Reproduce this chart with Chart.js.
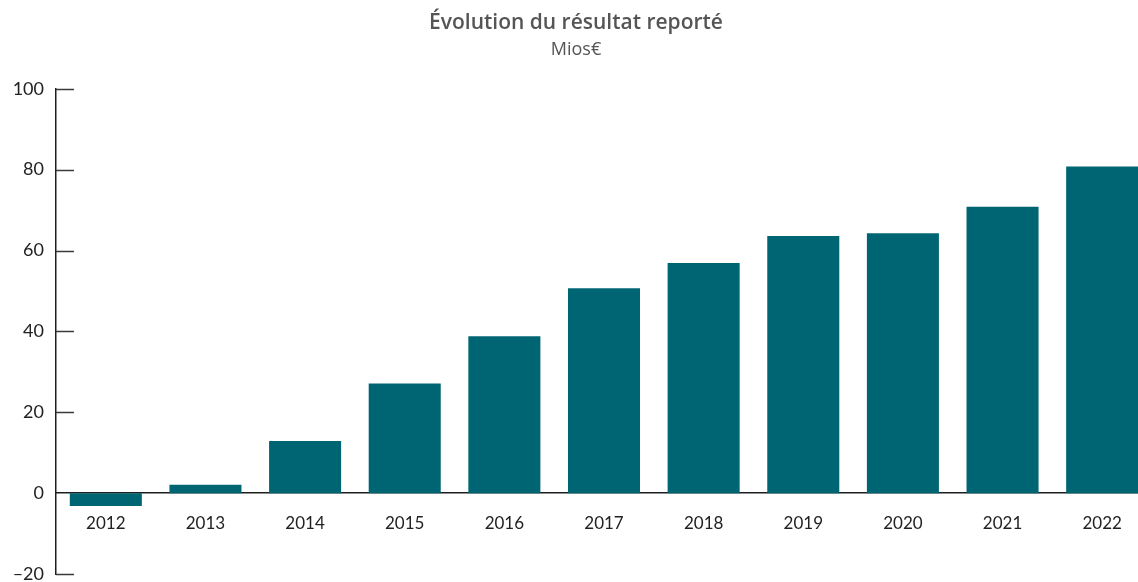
<!DOCTYPE html>
<html lang="fr">
<head>
<meta charset="utf-8">
<title>Évolution du résultat reporté</title>
<script src="https://cdn.jsdelivr.net/npm/chart.js@4.4.1/dist/chart.umd.min.js"></script>
<style>
    html, body { margin: 0; padding: 0; background: #fff; overflow: hidden; }
    #wrap { width: 1138px; height: 582px; overflow: hidden; }
</style>
</head>
<body>
<div id="wrap">
    <canvas id="resultChart" width="1152" height="582"></canvas>
</div>
<script>
var years = ["2012", "2013", "2014", "2015", "2016", "2017", "2018", "2019", "2020", "2021", "2022"];
var resultValues = [-3.2, 2.1, 12.9, 27.1, 38.8, 50.7, 56.9, 63.6, 64.3, 70.8, 80.8];
var yMin = -20;
var yMax = 100;
var yStep = 20;

var barColor = "#006572";
var axisColor = "#1e1e1e";

// short tick marks on the inner side of the y axis
var innerTicks = {
    id: "innerTicks",
    afterDatasetsDraw: function (chart) {
        var ctx = chart.ctx;
        var yScale = chart.scales.y;
        var left = chart.chartArea.left;
        ctx.save();
        ctx.strokeStyle = "#3a3a3a";
        ctx.lineWidth = 1.5;
        yScale.ticks.forEach(function (t) {
            if (t.value === 0) return;
            var y = Math.round(yScale.getPixelForValue(t.value)) + 0.5;
            ctx.beginPath();
            ctx.moveTo(left, y);
            ctx.lineTo(left + 18, y);
            ctx.stroke();
        });
        ctx.restore();
    }
};

var ctx = document.getElementById("resultChart").getContext("2d");
var resultChart = new Chart(ctx, {
    type: "bar",
    data: {
        labels: years,
        datasets: [
            {
                data: resultValues,
                backgroundColor: barColor,
                borderWidth: 0,
                categoryPercentage: 1,
                barPercentage: 0.723,
            },
        ],
    },
    options: {
        responsive: false,
        animation: false,
        layout: {
            padding: { left: 0, right: 0, top: 0, bottom: 8 },
        },
        plugins: {
            legend: { display: false },
            tooltip: { enabled: false },
            title: {
                display: true,
                text: "Évolution du résultat reporté",
                color: "#555555",
                font: { family: "'Open Sans', sans-serif", size: 21, weight: "600" },
                padding: { top: 10, bottom: 2 },
            },
            subtitle: {
                display: true,
                text: "Mios€",
                color: "#555555",
                font: { family: "'Open Sans', sans-serif", size: 18, weight: "400" },
                padding: { top: 2, bottom: 28 },
            },
        },
        scales: {
            x: {
                position: { y: 0 },
                offset: true,
                grid: { display: false, drawTicks: false },
                border: { display: true, color: axisColor, width: 1.5 },
                ticks: {
                    color: "#222222",
                    padding: 20,
                    font: { family: "Lato, sans-serif", size: 17 },
                },
                afterFit: function (scale) {
                    scale.height = 0;
                },
            },
            y: {
                min: yMin,
                max: yMax,
                grid: { display: false, drawTicks: false },
                border: { display: true, color: axisColor, width: 1.5 },
                ticks: {
                    stepSize: yStep,
                    color: "#222222",
                    padding: 12,
                    font: { family: "Lato, sans-serif", size: 18 },
                    callback: function (v) {
                        return String(v).replace("-", "\u2013");
                    },
                },
                afterFit: function (scale) {
                    scale.width = 56;
                    scale.paddingTop = 0;
                    scale.paddingBottom = 0;
                },
            },
        },
    },
    plugins: [innerTicks],
});
</script>
</body>
</html>
